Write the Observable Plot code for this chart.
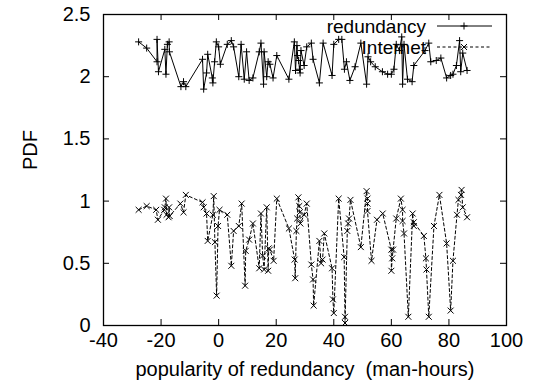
<!DOCTYPE html>
<html><head><meta charset="utf-8">
<script src="https://cdn.jsdelivr.net/npm/d3@7"></script>
<script src="https://cdn.jsdelivr.net/npm/@observablehq/plot@0.6"></script>
<style>
body{margin:0;background:#fff}
#chart svg{font-family:"Liberation Sans",Arial,Helvetica,sans-serif}
#chart svg text{white-space:pre}
</style>
</head><body><div id="chart"></div><script>
const redundancyX = [-27.8,-25.0,-21.4,-21.4,-20.9,-18.7,-18.3,-17.8,-17.2,-17.1,-13.1,-12.2,-11.4,-5.6,-5.2,-4.2,-3.8,-2.2,-2.0,-1.4,-0.8,0.0,0.6,3.0,4.4,5.2,7.0,7.8,8.9,9.7,10.6,11.9,14.1,14.7,15.6,15.8,16.7,17.2,17.8,18.9,20.2,24.4,26.3,26.7,27.2,27.4,27.8,28.1,28.3,28.6,29.7,30.6,32.2,32.8,35.0,36.3,39.4,40.0,41.7,42.8,43.7,44.4,45.6,47.4,49.4,51.4,51.9,52.8,54.4,56.9,58.7,60.0,60.9,61.7,62.8,63.6,63.9,64.4,65.6,67.2,67.8,71.7,73.0,73.7,75.6,77.2,79.2,80.6,81.4,82.6,83.7,84.1,84.8,86.3];
const redundancyY = [2.28,2.23,2.12,2.30,2.04,2.22,2.02,2.26,2.28,2.20,1.92,1.96,1.92,2.14,1.90,2.03,2.18,1.99,1.95,2.12,2.28,2.24,2.10,2.26,2.29,2.24,2.00,2.26,1.98,2.20,1.97,1.99,2.20,2.27,1.94,2.20,2.00,2.12,2.10,1.99,2.17,1.98,2.28,2.05,2.25,2.17,2.13,2.06,2.03,2.21,2.09,2.24,2.27,2.14,1.95,2.27,2.01,2.26,2.30,2.30,2.06,2.12,1.97,2.08,2.27,1.94,2.16,2.12,2.08,2.04,2.02,2.02,2.06,2.26,2.21,2.32,1.94,2.26,1.98,1.96,2.09,2.21,2.27,2.12,2.13,2.15,1.99,2.01,2.02,2.09,2.29,2.04,2.19,2.05];
const internetX = [-27.8,-25.0,-21.7,-21.1,-18.9,-18.7,-18.3,-18.1,-17.4,-17.2,-17.0,-13.3,-12.2,-11.4,-5.6,-5.2,-4.2,-3.8,-2.0,-1.7,-1.3,-0.7,-0.2,0.3,3.0,4.4,5.2,7.0,8.0,9.2,9.4,10.6,11.9,14.1,14.7,15.3,15.8,16.7,17.2,17.4,17.8,19.1,20.2,24.4,26.4,26.6,27.0,27.3,27.7,28.0,28.2,28.4,29.7,30.6,32.2,32.8,33.0,35.0,35.6,36.1,36.7,39.4,39.7,40.0,41.7,43.6,43.9,43.9,44.7,45.0,45.3,45.8,49.4,51.4,51.7,51.7,51.7,53.1,55.0,57.0,60.0,60.0,60.3,60.6,61.7,63.3,63.9,63.9,64.4,65.9,67.4,67.8,67.8,71.3,72.0,72.2,73.0,74.8,76.7,79.2,80.6,81.4,82.8,83.3,84.2,84.4,84.8,86.3];
const internetY = [0.93,0.96,0.93,0.85,0.93,0.95,1.02,0.89,0.87,0.95,0.88,0.98,0.91,1.05,0.99,0.95,0.90,0.68,0.89,1.04,0.67,0.24,0.80,0.93,0.89,0.48,0.76,0.80,0.98,0.32,0.60,0.69,0.82,0.46,0.90,0.56,0.45,0.95,0.44,0.62,0.61,0.52,1.02,0.78,0.53,0.38,0.76,0.86,1.03,0.96,0.91,0.82,0.89,0.98,0.49,0.37,0.16,0.68,0.50,0.53,0.74,0.46,0.21,0.10,1.02,0.55,0.07,0.02,0.76,0.82,0.86,1.01,0.63,1.08,1.02,0.98,0.92,0.52,0.85,0.90,0.61,0.44,0.54,0.61,0.86,1.02,0.93,0.84,0.74,0.07,0.90,0.80,0.83,0.72,0.54,0.45,0.07,0.80,1.05,0.66,0.12,0.52,0.89,1.01,1.05,1.09,0.95,0.87];
const xTicks = [-40,-20,0,20,40,60,80,100];
const yTicks = [0,0.5,1,1.5,2,2.5];
const yTickLabels = ["0","0.5","1","1.5","2","2.5"];
const seriesNames = ["redundancy","Internet"];
const xLabel = "popularity of redundancy  (man-hours)";
const yLabel = "PDF";

const W = 542, H = 392, mL = 103, mR = 36, mT = 14, mB = 67;
const pw = W - mL - mR, ph = H - mT - mB, tk = 6;
const FS = 20, LFS = 19;

const red = redundancyX.map((x, i) => ({x, y: redundancyY[i]}));
const inet = internetX.map((x, i) => ({x, y: internetY[i]}));

const chart = Plot.plot({
  width: W, height: H,
  marginLeft: mL, marginRight: mR, marginTop: mT, marginBottom: mB,
  style: {fontSize: FS + "px", background: "white", color: "black", overflow: "visible"},
  x: {domain: [-40, 100]},
  y: {domain: [0, 2.5]},
  marks: [
    Plot.axisX({ticks: xTicks, tickSize: 0, tickPadding: 7, tickFormat: d => String(d), label: null, fontSize: FS}),
    Plot.axisY({ticks: yTicks, tickSize: 0, tickPadding: 13, tickFormat: (d, i) => yTickLabels[i], label: null, fontSize: FS}),
    Plot.tickX(xTicks, {x: d => d, stroke: "black", insetTop: ph - tk}),
    Plot.tickX(xTicks, {x: d => d, stroke: "black", insetBottom: ph - tk}),
    Plot.tickY(yTicks, {y: d => d, stroke: "black", insetRight: pw - tk}),
    Plot.tickY(yTicks, {y: d => d, stroke: "black", insetLeft: pw - tk}),
    Plot.line(red, {x: "x", y: "y", stroke: "black", strokeWidth: 1}),
    Plot.dot(red, {x: "x", y: "y", symbol: "plus", r: 2.4, stroke: "black", strokeWidth: 1}),
    Plot.line(inet, {x: "x", y: "y", stroke: "black", strokeWidth: 1, strokeDasharray: "3,2.5"}),
    Plot.dot(inet, {x: "x", y: "y", symbol: "times", r: 2.8, stroke: "black", strokeWidth: 1}),
    Plot.frame({stroke: "black", strokeWidth: 1.3}),
    Plot.text([xLabel], {frameAnchor: "bottom", dy: 50, fontSize: FS, fill: "black"}),
    Plot.text([yLabel], {frameAnchor: "left", dx: -73, rotate: -90, fontSize: FS, fill: "black"})
  ]
});
document.getElementById("chart").appendChild(chart);

// legend (gnuplot-style key, inside top right)
const svg = d3.select(chart);
const leg = svg.append("g").attr("font-size", LFS).attr("fill", "black");
const dashes = [null, "3,2.5"];
const sym = [d3.symbolPlus, d3.symbolTimes];
const symSize = [18, 25];
const rowY = [26, 47];
seriesNames.forEach((name, i) => {
  const cy = rowY[i];
  leg.append("text").attr("x", 426).attr("y", cy).attr("dy", "0.35em")
    .attr("text-anchor", "end").text(name);
  leg.append("line").attr("x1", 437).attr("x2", 492).attr("y1", cy).attr("y2", cy)
    .attr("stroke", "black").attr("stroke-dasharray", dashes[i]);
  leg.append("path").attr("transform", `translate(464,${cy})`)
    .attr("d", d3.symbol(sym[i], symSize[i])()).attr("fill", "none").attr("stroke", "black");
});
</script></body></html>
